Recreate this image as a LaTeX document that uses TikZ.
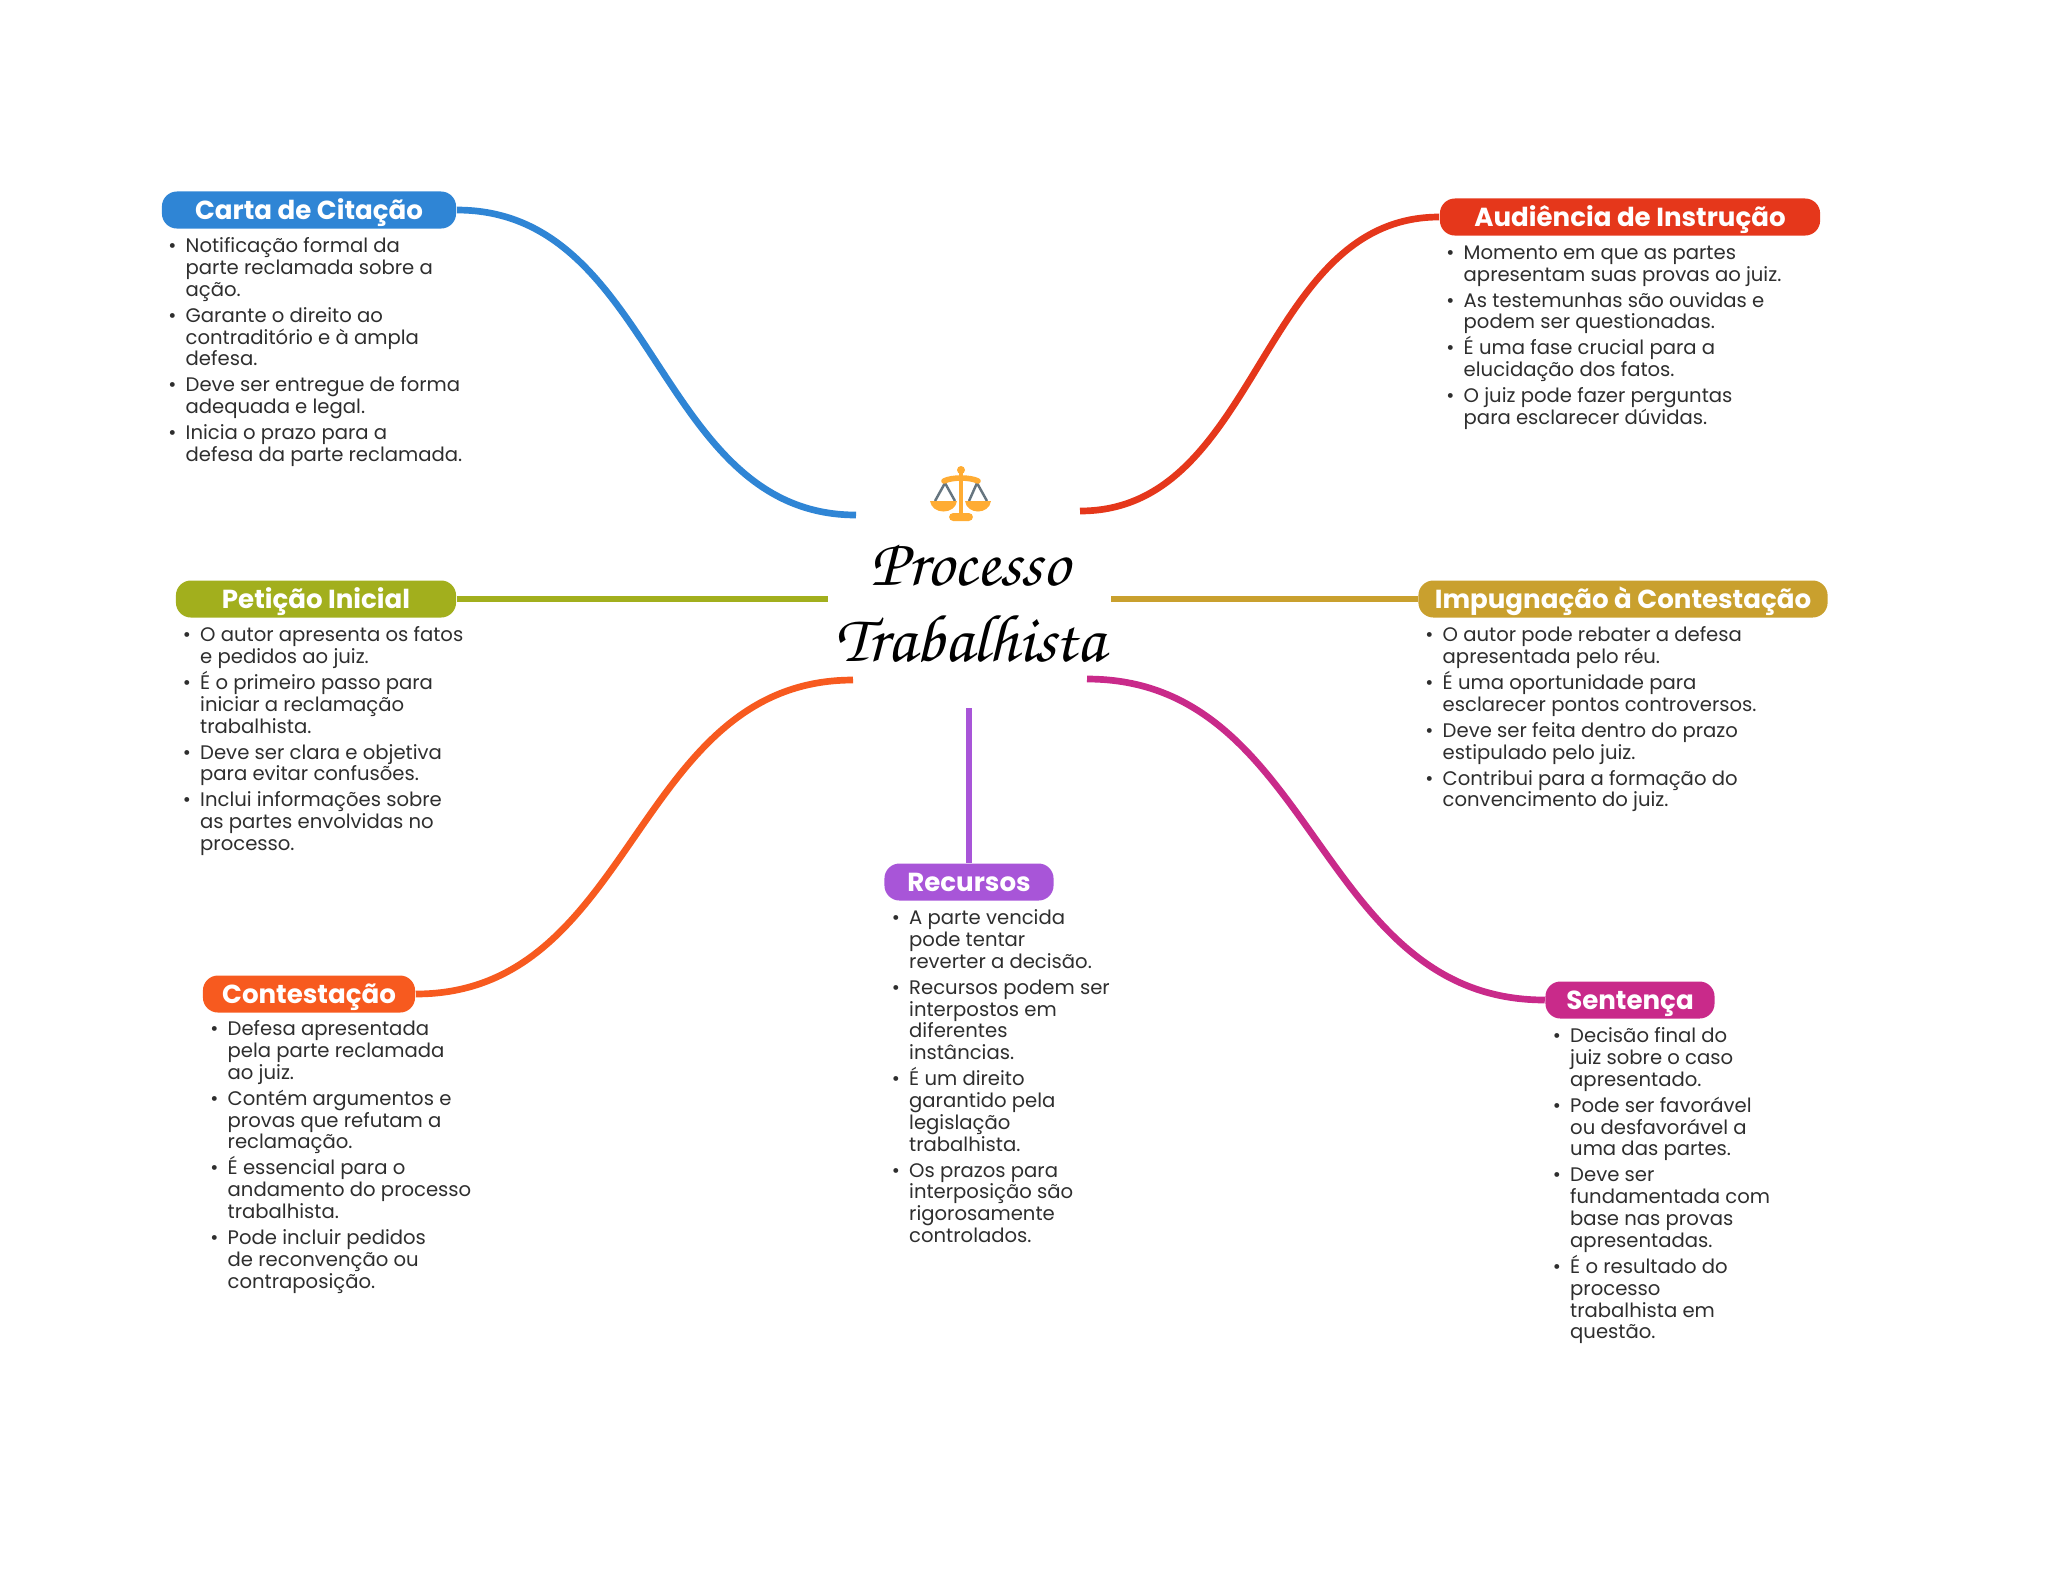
\documentclass[tikz,border=0pt]{standalone}
\usepackage{fontspec}
\usepackage{tikz}
\setmainfont{Poppins}
\newfontfamily\titlefont{TeX Gyre Chorus}
\definecolor{cblue}{HTML}{2f85d5}
\definecolor{cred}{HTML}{e5371b}
\definecolor{colive}{HTML}{a2af1d}
\definecolor{cgold}{HTML}{c9a02e}
\definecolor{corange}{HTML}{f75a1f}
\definecolor{cpurple}{HTML}{a855d8}
\definecolor{cmagenta}{HTML}{c92a8a}
\definecolor{ctext}{HTML}{2e2e2e}
\definecolor{cscale}{HTML}{ffac33}
\definecolor{cstring}{HTML}{66757f}
\newcommand{\itm}{\leavevmode\llap{\textbullet\hspace{2.6pt}}}
\setlength{\lineskiplimit}{-10pt}
\setlength{\normallineskiplimit}{-10pt}

\begin{document}
\begin{tikzpicture}[x=0.01cm,y=-0.01cm,
  pill/.style={rounded corners=0.15cm,minimum height=0.37cm,inner sep=0pt,text=white,
    text height=7pt,text depth=1.7pt,font=\fontsize{7.42}{9}\selectfont\bfseries},
  lst/.style={anchor=north west,inner sep=0pt,align=left,text=ctext,
    font=\fontsize{5.58}{6.2}\selectfont},
  link/.style={line width=1.9pt}]
  \useasboundingbox (0,0) rectangle (2048,1569);
  % branches
  \node[pill,fill=cblue,minimum width=2.94cm] (carta) at (309,210) {Carta de Citação};
  \node[pill,fill=cred,minimum width=3.80cm] (audiencia) at (1630,217) {Audiência de Instrução};
  \node[pill,fill=colive,minimum width=2.80cm] (peticao) at (316,599) {Petição Inicial};
  \node[pill,fill=cgold,minimum width=4.09cm] (impugnacao) at (1623,599) {Impugnação à Contestação};
  \node[pill,fill=corange,minimum width=2.12cm] (contestacao) at (309,994) {Contestação};
  \node[pill,fill=cpurple,minimum width=1.69cm] (recursos) at (969,882) {Recursos};
  \node[pill,fill=cmagenta,minimum width=1.69cm] (sentenca) at (1630,1000) {Sentença};
  % title
  \node[inner sep=0pt,align=center,font=\fontsize{19.2}{21.6}\selectfont\titlefont] (title) at (970,604)
    {Processo\\Trabalhista};
  % free ends
  \coordinate (cartaend) at (856,515);
  \coordinate (audienciaend) at (1080,511);
  \coordinate (peticaoend) at (828,599);
  \coordinate (impugnacaoend) at (1111,599);
  \coordinate (contestacaoend) at (853,680);
  \coordinate (recursosend) at (969,708);
  \coordinate (sentencaend) at (1087,679);
  \draw[link,cblue] (carta.east) .. controls +(200,0) and +(-200,0) .. (cartaend);
  \draw[link,cred] (audiencia.west) .. controls +(-180,0) and +(180,0) .. (audienciaend);
  \draw[link,colive] (peticao.east) -- (peticaoend);
  \draw[link,cgold] (impugnacao.west) -- (impugnacaoend);
  \draw[link,corange] (contestacao.east) .. controls +(220,0) and +(-220,0) .. (contestacaoend);
  \draw[link,cpurple] (recursos.north) -- (recursosend);
  \draw[link,cmagenta] (sentenca.west) .. controls +(-230,0) and +(230,0) .. (sentencaend);
  % lists
  \node[lst] (cartatxt) at (185,237) {\itm Notificação formal da\\parte reclamada sobre a\\ação.\\[1.2pt]
    \itm Garante o direito ao\\contraditório e à ampla\\defesa.\\[1.2pt]
    \itm Deve ser entregue de forma\\adequada e legal.\\[1.2pt]
    \itm Inicia o prazo para a\\defesa da parte reclamada.};
  \node[lst] (audienciatxt) at (1463,245) {\itm Momento em que as partes\\apresentam suas provas ao juiz.\\[1.2pt]
    \itm As testemunhas são ouvidas e\\podem ser questionadas.\\[1.2pt]
    \itm É uma fase crucial para a\\elucidação dos fatos.\\[1.2pt]
    \itm O juiz pode fazer perguntas\\para esclarecer dúvidas.};
  \node[lst] (peticaotxt) at (199.5,626) {\itm O autor apresenta os fatos\\e pedidos ao juiz.\\[1.2pt]
    \itm É o primeiro passo para\\iniciar a reclamação\\trabalhista.\\[1.2pt]
    \itm Deve ser clara e objetiva\\para evitar confusões.\\[1.2pt]
    \itm Inclui informações sobre\\as partes envolvidas no\\processo.};
  \node[lst] (impugnacaotxt) at (1442,626) {\itm O autor pode rebater a defesa\\apresentada pelo réu.\\[1.2pt]
    \itm É uma oportunidade para\\esclarecer pontos controversos.\\[1.2pt]
    \itm Deve ser feita dentro do prazo\\estipulado pelo juiz.\\[1.2pt]
    \itm Contribui para a formação do\\convencimento do juiz.};
  \node[lst] (contestacaotxt) at (227,1020) {\itm Defesa apresentada\\pela parte reclamada\\ao juiz.\\[1.2pt]
    \itm Contém argumentos e\\provas que refutam a\\reclamação.\\[1.2pt]
    \itm É essencial para o\\andamento do processo\\trabalhista.\\[1.2pt]
    \itm Pode incluir pedidos\\de reconvenção ou\\contraposição.};
  \node[lst] (recursostxt) at (908.5,909) {\itm A parte vencida\\pode tentar\\reverter a decisão.\\[1.2pt]
    \itm Recursos podem ser\\interpostos em\\diferentes\\instâncias.\\[1.2pt]
    \itm É um direito\\garantido pela\\legislação\\trabalhista.\\[1.2pt]
    \itm Os prazos para\\interposição são\\rigorosamente\\controlados.};
  \node[lst] (sentencatxt) at (1569.5,1027) {\itm Decisão final do\\juiz sobre o caso\\apresentado.\\[1.2pt]
    \itm Pode ser favorável\\ou desfavorável a\\uma das partes.\\[1.2pt]
    \itm Deve ser\\fundamentada com\\base nas provas\\apresentadas.\\[1.2pt]
    \itm É o resultado do\\processo\\trabalhista em\\questão.};
  % scales
  \draw[cstring,line width=0.7pt] (935,501) -- (945,483) -- (955,501) (969,501) -- (977,483) -- (987,501);
  \fill[cscale] (961,470) circle (4);
  \draw[cscale,line width=1.3pt] (961,470) -- (961,515);
  \draw[cscale,line width=1.6pt,line cap=round] (944,481) .. controls (952,477) and (970,477) .. (978,481);
  \fill[cscale] (930,501) -- (957,501) .. controls (955,515) and (932,515) .. (930,501);
  \fill[cscale] (965,501) -- (991,501) .. controls (989,515) and (967,515) .. (965,501);
  \fill[cscale,rounded corners=1.2pt] (949,521) rectangle (973,513);
\end{tikzpicture}
\end{document}
